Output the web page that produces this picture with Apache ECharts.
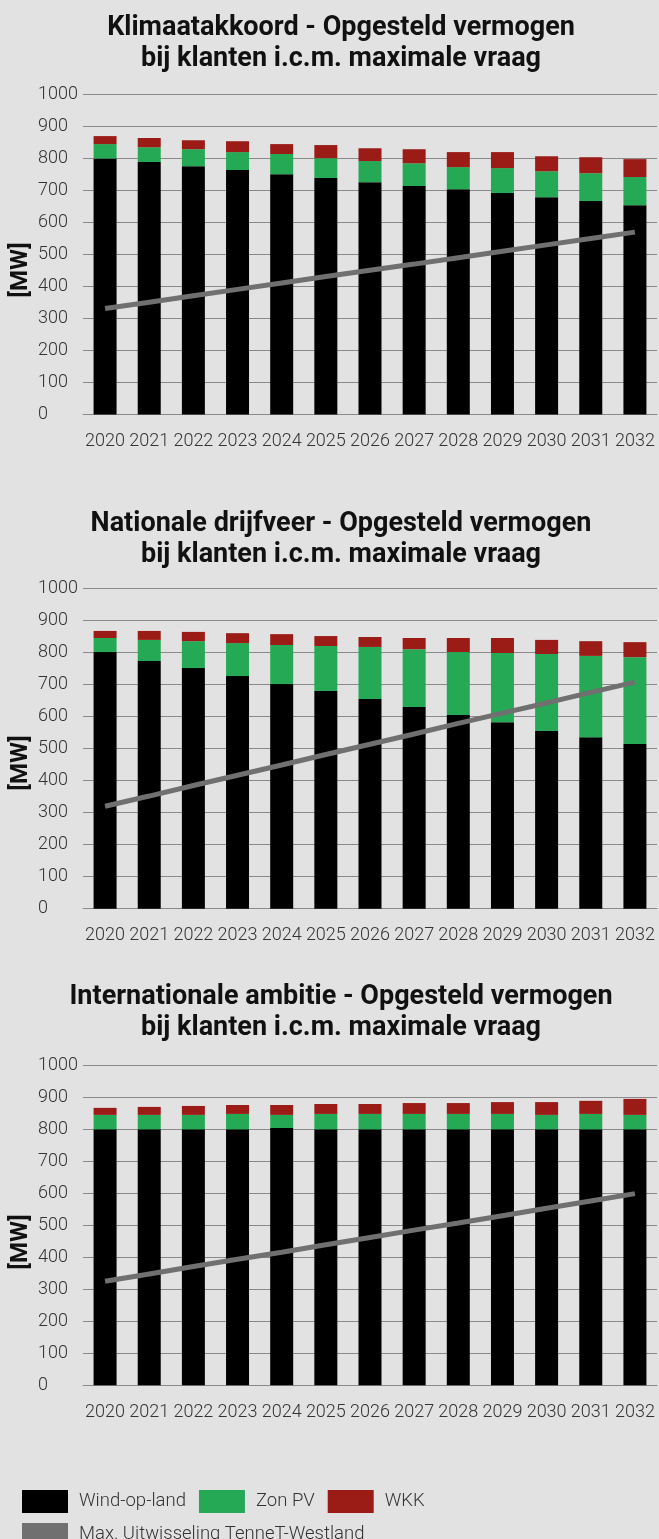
<!DOCTYPE html>
<html>
<head>
<meta charset="utf-8">
<script src="https://cdn.jsdelivr.net/npm/echarts@6/dist/echarts.min.js"></script>
<style>
  html, body { margin: 0; padding: 0; background: #e2e2e2; }
  #chart { width: 659px; height: 1539px; }
</style>
</head>
<body>
<div id="chart"></div>
<script>
var years = ["2020", "2021", "2022", "2023", "2024", "2025", "2026", "2027", "2028", "2029", "2030", "2031", "2032"];

// Klimaatakkoord
var klimaWind = [800, 789, 776, 764, 751, 739, 726, 714, 704, 692, 679, 667, 654];
var klimaPV = [45, 46, 53, 56, 63, 62, 66, 71, 69, 78, 81, 87, 88];
var klimaWKK = [25, 29, 28, 34, 31, 41, 40, 44, 47, 50, 47, 50, 56];
var klimaMax = [331, 351, 371, 391, 411, 431, 451, 470, 490, 510, 530, 550, 570];

// Nationale drijfveer
var natWind = [802, 774, 752, 727, 702, 680, 655, 630, 605, 583, 555, 536, 515];
var natPV = [44, 66, 84, 103, 122, 141, 163, 181, 197, 216, 241, 254, 271];
var natWKK = [22, 28, 29, 31, 34, 31, 31, 35, 44, 47, 44, 46, 47];
var natMax = [320, 352, 385, 417, 449, 482, 514, 546, 579, 611, 643, 676, 708];

// Internationale ambitie
var intWind = [800, 800, 800, 800, 804, 800, 800, 800, 800, 800, 800, 800, 800];
var intPV = [45, 45, 45, 48, 41, 48, 48, 48, 48, 48, 45, 48, 45];
var intWKK = [22, 25, 28, 28, 31, 31, 31, 34, 34, 37, 40, 41, 50];
var intMax = [325, 348, 371, 394, 416, 439, 462, 485, 507, 530, 553, 576, 599];

var yMin = 0, yMax = 1000, yStep = 100;

var titles = [
  "Klimaatakkoord - Opgesteld vermogen\nbij klanten i.c.m. maximale vraag",
  "Nationale drijfveer - Opgesteld vermogen\nbij klanten i.c.m. maximale vraag",
  "Internationale ambitie - Opgesteld vermogen\nbij klanten i.c.m. maximale vraag"
];
var scenarios = [
  [klimaWind, klimaPV, klimaWKK, klimaMax],
  [natWind, natPV, natWKK, natMax],
  [intWind, intPV, intWKK, intMax]
];

var gridTops = [94.5, 588.7, 1065.3];
var titleTops = [8, 504, 977];
var unitCenters = [270, 763, 1242];
var colWind = "#000000", colPV = "#26a954", colWKK = "#9b1b17", colMax = "#707070";
var gridColor = "#8a8a8a";
var font = "Roboto";

var grids = [], xAxes = [], yAxes = [], series = [], title = [], graphic = [];

for (var i = 0; i < 3; i++) {
  title.push({
    text: titles[i],
    left: 336,
    top: titleTops[i],
    textAlign: "center",
    textStyle: {
      fontFamily: font,
      fontSize: 27,
      fontWeight: "bold",
      color: "#111",
      lineHeight: 31
    }
  });
  // eenheid [MW] naast de y-as
  graphic.push({
    type: "text",
    x: 21,
    y: unitCenters[i],
    rotation: Math.PI / 2,
    style: {
      text: "[MW]",
      align: "center",
      verticalAlign: "middle",
      fontFamily: font,
      fontSize: 24,
      fontWeight: "bold",
      fill: "#111"
    }
  });
  grids.push({ left: 83, right: 2, top: gridTops[i], height: 320, outerBoundsMode: "none", containLabel: false });
  xAxes.push({
    type: "category",
    gridIndex: i,
    data: years,
    axisTick: { show: false },
    axisLine: { lineStyle: { color: gridColor, width: 1 } },
    axisLabel: {
      interval: 0,
      margin: 18,
      color: "#333",
      fontFamily: font,
      fontWeight: 300,
      fontSize: 18
    }
  });
  yAxes.push({
    type: "value",
    gridIndex: i,
    min: yMin,
    max: yMax,
    interval: yStep,
    axisLine: { show: false },
    axisTick: { show: false },
    splitLine: { lineStyle: { color: gridColor, width: 1 } },
    axisLabel: {
      align: "left",
      margin: 45,
      padding: [0, 0, 10, 0],
      color: "#333",
      fontFamily: font,
      fontWeight: 300,
      fontSize: 18,
      formatter: function (v) { return String(v); }
    }
  });
  var d = scenarios[i];
  series.push({
    name: "Wind-op-land", type: "bar", stack: "s" + i,
    xAxisIndex: i, yAxisIndex: i, barWidth: 23,
    itemStyle: { color: colWind }, data: d[0]
  });
  series.push({
    name: "Zon PV", type: "bar", stack: "s" + i,
    xAxisIndex: i, yAxisIndex: i, barWidth: 23,
    itemStyle: { color: colPV }, data: d[1]
  });
  series.push({
    name: "WKK", type: "bar", stack: "s" + i,
    xAxisIndex: i, yAxisIndex: i, barWidth: 23,
    itemStyle: { color: colWKK }, data: d[2]
  });
  series.push({
    name: "Max. Uitwisseling TenneT-Westland", type: "line",
    xAxisIndex: i, yAxisIndex: i, z: 5,
    symbol: "none",
    lineStyle: { color: colMax, width: 5 },
    itemStyle: { color: colMax },
    data: d[3]
  });
}

var legendText = {
  fontFamily: font,
  fontWeight: 300,
  fontSize: 18.5,
  color: "#333",
  padding: [0, 0, 0, 6]
};

var chart = echarts.init(document.getElementById("chart"));
chart.setOption({
  backgroundColor: "#e2e2e2",
  animation: false,
  title: title,
  graphic: graphic,
  grid: grids,
  xAxis: xAxes,
  yAxis: yAxes,
  legend: [
    {
      data: ["Wind-op-land", "Zon PV", "WKK"],
      left: 17, top: 1485,
      icon: "rect", itemWidth: 46, itemHeight: 23, itemGap: 13,
      textStyle: legendText
    },
    {
      data: ["Max. Uitwisseling TenneT-Westland"],
      left: 17, top: 1518,
      icon: "rect", itemWidth: 46, itemHeight: 23,
      textStyle: legendText
    }
  ],
  series: series
});
</script>
</body>
</html>
